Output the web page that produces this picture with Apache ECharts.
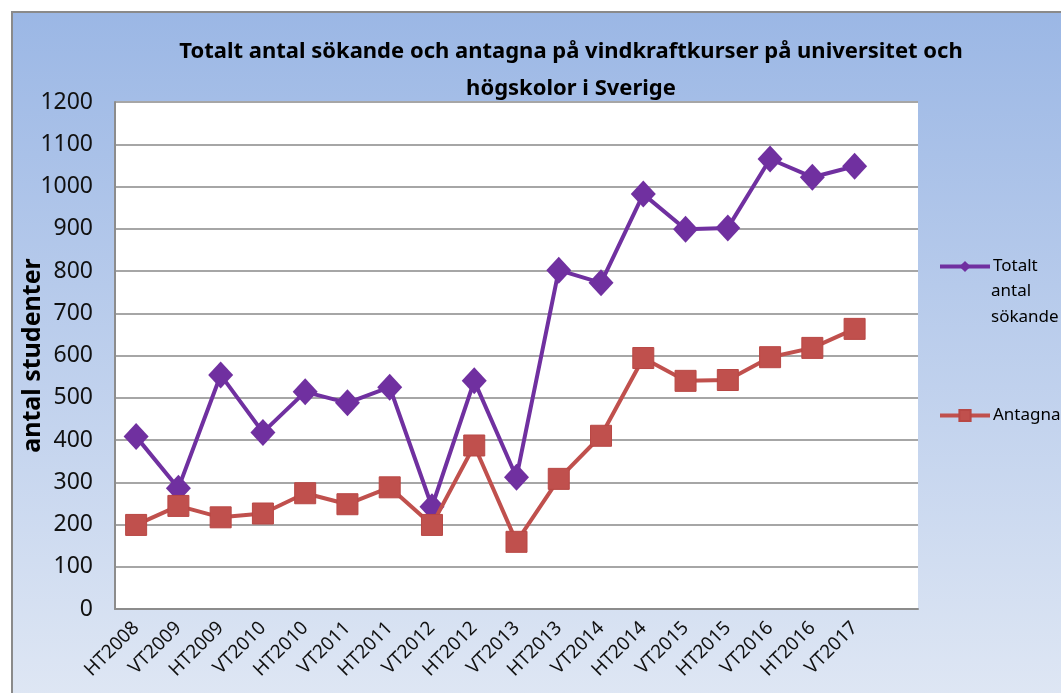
<!DOCTYPE html>
<html>
<head>
<meta charset="utf-8">
<script src="https://cdn.jsdelivr.net/npm/echarts@6/dist/echarts.min.js"></script>
<style>
  html, body { margin: 0; padding: 0; background: #fff; }
  #Charts { width: 1061px; height: 693px; }
</style>
</head>
<body>
<div id="Charts"></div>
<script>
// terminer (sista kategorin är tom, som i Excel-diagrammet)
const terms = ['HT2008', 'VT2009', 'HT2009', 'VT2010', 'HT2010', 'VT2011', 'HT2011', 'VT2012', 'HT2012',
  'VT2013', 'HT2013', 'VT2014', 'HT2014', 'VT2015', 'HT2015', 'VT2016', 'HT2016', 'VT2017', '']
const sokande = [408, 286, 554, 418, 514, 488, 525, 242, 540, 312, 802, 772, 982, 899, 902, 1065, 1022, 1048, null]
const antagna = [199, 244, 217, 226, 274, 248, 288, 199, 387, 159, 308, 410, 594, 540, 542, 596, 618, 663, null]
const yTicks = [0, 1200, 100]

const font = '"Noto Sans", "DejaVu Sans", sans-serif'

let chart = echarts.init(document.getElementById('Charts'))
let option = {
  animation: false,
  title: {
    text: 'Totalt antal sökande och antagna på vindkraftkurser på universitet och\nhögskolor i Sverige',
    left: 566,
    top: 28,
    textAlign: 'center',
    textStyle: {
      fontFamily: font,
      fontWeight: 'bold',
      fontSize: 22,
      lineHeight: 37,
      color: '#000'
    }
  },
  graphic: [
    {
      type: 'rect',
      z: -10,
      silent: true,
      shape: { x: 12, y: 12, width: 1060, height: 690 },
      style: {
        fill: new echarts.graphic.LinearGradient(0, 0, 0, 1, [
          { offset: 0, color: '#9bb7e5' },
          { offset: 1, color: '#dfe7f4' }
        ]),
        stroke: '#8a8a8a',
        lineWidth: 2
      }
    },
    {
      type: 'text',
      left: 991,
      top: 278,
      style: {
        text: 'antal\nsökande',
        fontFamily: font,
        fontSize: 17,
        lineHeight: 26,
        fill: '#000'
      }
    }
  ],
  legend: [
    {
      data: ['Totalt antal sökande'],
      left: 933,
      top: 253,
      itemWidth: 50,
      itemHeight: 14,
      lineStyle: { width: 4 },
      formatter: () => 'Totalt',
      textStyle: { fontFamily: font, fontSize: 17, color: '#000', padding: [0, 0, 0, -2] }
    },
    {
      data: ['Antagna'],
      left: 933,
      top: 402,
      itemWidth: 50,
      itemHeight: 14,
      lineStyle: { width: 4 },
      textStyle: { fontFamily: font, fontSize: 17, color: '#000', padding: [0, 0, 0, -2] }
    }
  ],
  grid: {
    left: 115,
    right: 143,
    top: 102,
    bottom: 84,
    outerBoundsMode: 'none',
    containLabel: false,
    show: true,
    backgroundColor: '#fff',
    borderWidth: 0
  },
  xAxis: {
    type: 'category',
    data: terms,
    boundaryGap: true,
    axisLine: { lineStyle: { color: '#8c8c8c', width: 2 } },
    axisTick: { show: false },
    axisLabel: {
      interval: 0,
      rotate: 45,
      margin: 16,
      fontFamily: font,
      fontSize: 19,
      color: '#111'
    }
  },
  yAxis: {
    type: 'value',
    min: yTicks[0],
    max: yTicks[1],
    interval: yTicks[2],
    name: 'antal studenter',
    nameLocation: 'middle',
    nameGap: 70,
    nameMoveOverlap: false,
    nameTextStyle: { fontFamily: font, fontWeight: 'bold', fontSize: 25, color: '#000' },
    axisLine: { show: true, lineStyle: { color: '#8c8c8c', width: 2 } },
    axisTick: { show: false },
    axisLabel: {
      margin: 22,
      fontFamily: font,
      fontSize: 23,
      color: '#111',
      formatter: v => String(v)
    },
    splitLine: { show: true, lineStyle: { color: '#a6a6a6', width: 2 } }
  },
  series: [
    {
      name: 'Totalt antal sökande',
      type: 'line',
      data: sokande,
      symbol: 'diamond',
      symbolSize: [25, 27],
      lineStyle: { color: '#7030a0', width: 4 },
      itemStyle: { color: '#7030a0' },
      z: 3
    },
    {
      name: 'Antagna',
      type: 'line',
      data: antagna,
      symbol: 'rect',
      symbolSize: 21,
      lineStyle: { color: '#c0504d', width: 4 },
      itemStyle: { color: '#c0504d', borderColor: '#b84744', borderWidth: 1 },
      z: 4
    }
  ]
}
chart.setOption(option)
</script>
</body>
</html>
